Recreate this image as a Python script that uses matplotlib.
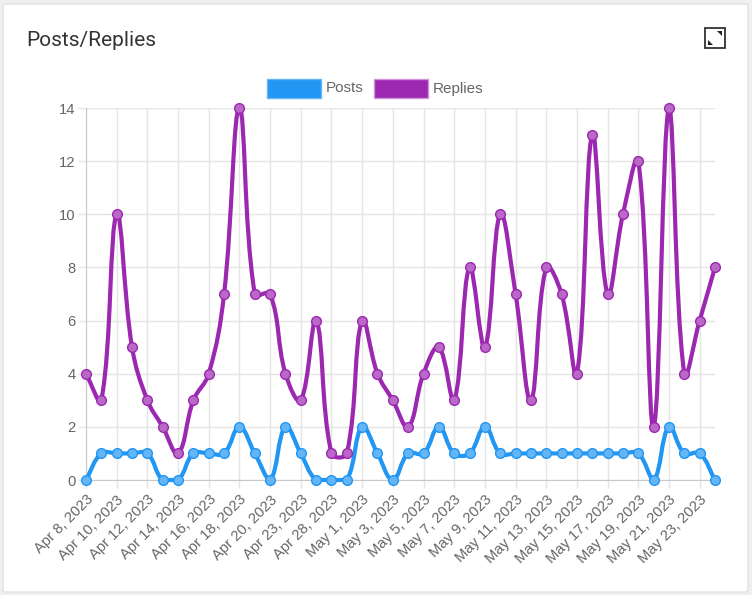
import numpy as np
import matplotlib
matplotlib.use("Agg")
import matplotlib.pyplot as plt
from matplotlib.path import Path
from matplotlib.patches import PathPatch, Rectangle, FancyBboxPatch, Polygon

# data
dates = ["Apr 8, 2023", "Apr 9, 2023", "Apr 10, 2023", "Apr 11, 2023", "Apr 12, 2023",
         "Apr 13, 2023", "Apr 14, 2023", "Apr 15, 2023", "Apr 16, 2023", "Apr 17, 2023",
         "Apr 18, 2023", "Apr 19, 2023", "Apr 20, 2023", "Apr 21, 2023", "Apr 23, 2023",
         "Apr 25, 2023", "Apr 28, 2023", "Apr 29, 2023", "May 1, 2023", "May 2, 2023",
         "May 3, 2023", "May 4, 2023", "May 5, 2023", "May 6, 2023", "May 7, 2023",
         "May 8, 2023", "May 9, 2023", "May 10, 2023", "May 11, 2023", "May 12, 2023",
         "May 13, 2023", "May 14, 2023", "May 15, 2023", "May 16, 2023", "May 17, 2023",
         "May 18, 2023", "May 19, 2023", "May 20, 2023", "May 21, 2023", "May 22, 2023",
         "May 23, 2023", "May 24, 2023"]
posts = [0, 1, 1, 1, 1, 0, 0, 1, 1, 1, 2, 1, 0, 2, 1, 0, 0, 0, 2, 1, 0,
         1, 1, 2, 1, 1, 2, 1, 1, 1, 1, 1, 1, 1, 1, 1, 1, 0, 2, 1, 1, 0]
replies = [4, 3, 10, 5, 3, 2, 1, 3, 4, 7, 14, 7, 7, 4, 3, 6, 1, 1, 6, 4, 3,
           2, 4, 5, 3, 8, 5, 10, 7, 3, 8, 7, 4, 13, 7, 10, 12, 2, 14, 4, 6, 8]

W, H = 752, 595
fig = plt.figure(figsize=(W / 100, H / 100), dpi=100)
fig.patch.set_facecolor("#efefef")

# card
card = FancyBboxPatch((3 / W, 3 / H), 745 / W, 588 / H, boxstyle="round,pad=0,rounding_size=0.004",
                      transform=fig.transFigure, facecolor="white", edgecolor="#e2e2e2", lw=1,
                      zorder=-10)
fig.patches.append(card)

fig.text(26 / W, 1 - 40 / H, "Posts/Replies", fontsize=15, family="Roboto", color="#333333",
         va="center", ha="left")

# expand icon
fig.patches.append(Rectangle((705 / W, 1 - 48 / H), 20 / W, 20 / H, transform=fig.transFigure,
                             facecolor="none", edgecolor="#333333", lw=1.3))
fig.patches.append(Polygon([(717 / W, 1 - 31 / H), (722 / W, 1 - 31 / H), (722 / W, 1 - 36 / H)],
                           closed=True, transform=fig.transFigure, facecolor="#222222"))
fig.patches.append(Polygon([(708 / W, 1 - 40 / H), (708 / W, 1 - 45 / H), (713 / W, 1 - 45 / H)],
                           closed=True, transform=fig.transFigure, facecolor="#222222"))

left, right, top, bottom = 86, 715, 108, 480
ax = fig.add_axes([left / W, 1 - bottom / H, (right - left) / W, (bottom - top) / H])
ax.set_zorder(2)
n = len(dates)
ax.set_xlim(0, n - 1)
ax.set_ylim(0, 14)
ax.set_facecolor("none")

grid_c = "#e5e5e5"
for s in ["top", "right"]:
    ax.spines[s].set_visible(False)
for s in ["left", "bottom"]:
    ax.spines[s].set_color("#c8c8c8")
ax.set_yticks(range(0, 15, 2))
ax.set_xticks(range(0, n, 2))
ax.set_xticklabels(dates[::2], rotation=45, ha="right", va="top", rotation_mode="anchor")
ax.grid(True, color=grid_c, lw=1)
ax.set_axisbelow(True)
ax.tick_params(axis="both", color=grid_c, length=6, width=1, labelcolor="#666666",
               labelsize=10.6)
ax.tick_params(axis="y", pad=1.5)
ax.tick_params(axis="x", pad=3)
for lab in ax.get_xticklabels() + ax.get_yticklabels():
    lab.set_family("Liberation Sans")


def smooth_path(xs, ys, t=0.4):
    pts = ax.transData.transform(np.column_stack([xs, ys]))
    m = len(pts)
    cp_prev = np.zeros_like(pts)
    cp_next = np.zeros_like(pts)
    for i in range(m):
        p0 = pts[max(i - 1, 0)]
        p1 = pts[i]
        p2 = pts[min(i + 1, m - 1)]
        d01 = np.hypot(*(p1 - p0))
        d12 = np.hypot(*(p2 - p1))
        tot = d01 + d12
        s01 = d01 / tot if tot else 0
        s12 = d12 / tot if tot else 0
        cp_prev[i] = p1 - t * s01 * (p2 - p0)
        cp_next[i] = p1 + t * s12 * (p2 - p0)
    inv = ax.transData.inverted()
    cp_prev = inv.transform(cp_prev)
    cp_next = inv.transform(cp_next)
    for c in (cp_prev, cp_next):
        c[:, 0] = np.clip(c[:, 0], 0, m - 1)
        c[:, 1] = np.clip(c[:, 1], 0, 14)
    verts = [(xs[0], ys[0])]
    codes = [Path.MOVETO]
    for i in range(m - 1):
        verts += [tuple(cp_next[i]), tuple(cp_prev[i + 1]), (xs[i + 1], ys[i + 1])]
        codes += [Path.CURVE4] * 3
    return Path(verts, codes)


x = np.arange(n)
series = [(posts, "#2196F3", "#64B5F6", "Posts"), (replies, "#9C27B0", "#BA68C8", "Replies")]
for ys, lc, fc, name in series:
    ax.add_patch(PathPatch(smooth_path(x, np.array(ys, float)), facecolor="none",
                           edgecolor=lc, lw=3, clip_on=False, zorder=3, capstyle="round",
                           joinstyle="round"))
    ax.plot(x, ys, ls="none", marker="o", ms=7, mfc=fc, mec=lc, mew=1, clip_on=False, zorder=4)

# legend
fig.patches.append(Rectangle((267 / W, 1 - 98 / H), 54 / W, 19 / H, transform=fig.transFigure,
                             facecolor="#2196F3", edgecolor="#64B5F6", lw=1))
fig.text(326 / W, 1 - 88.5 / H, "Posts", fontsize=11, family="Liberation Sans", color="#666666",
         va="center", ha="left")
fig.patches.append(Rectangle((374 / W, 1 - 98 / H), 54 / W, 19 / H, transform=fig.transFigure,
                             facecolor="#9C27B0", edgecolor="#CE93D8", lw=1))
fig.text(433 / W, 1 - 88.5 / H, "Replies", fontsize=11, family="Liberation Sans", color="#666666",
         va="center", ha="left")

fig.savefig("out.png", dpi=100, facecolor=fig.get_facecolor())
